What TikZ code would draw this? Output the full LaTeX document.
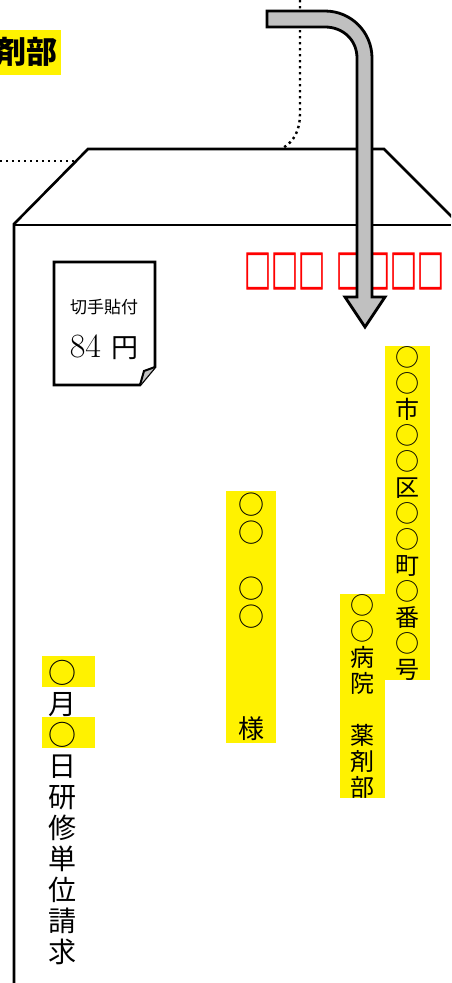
\documentclass[tikz,border=0pt]{standalone}
\usepackage{fontspec}
\newfontfamily\jp{Noto Sans CJK JP}
\newfontfamily\tofu[FakeBold=2.5]{Noto Sans CJK JP}
\usetikzlibrary{positioning}
\definecolor{pipegray}{RGB}{192,192,192}

\begin{document}
\begin{tikzpicture}[x=1pt,y=-1pt,
    env/.style={line width=2.6pt},
    dots/.style={line width=2.4pt,dash pattern=on 2.4pt off 3.6pt},
    pipe/.style={fill=pipegray,draw=black,line width=2.8pt,line join=miter},
    hl/.style={fill=yellow,inner sep=0pt},
    tate/.style={align=center,inner sep=0pt,anchor=north}]
  \useasboundingbox (0,0) rectangle (451,983);
  \clip (0,0) rectangle (451,983);

  % label cut at the page edge
  \node[hl,anchor=east,inner xsep=3pt,minimum height=45pt] (bukai) at (61,52)
    {\jp\bfseries\fontsize{31}{31}\selectfont 薬剤部};
  \draw[dots] (0,161) -- (76,161);
  \draw[dots] (300,0) -- (300,113) .. controls (300,131) and (294,141) .. (283,148);

  % envelope
  \draw[env] (14,983) -- (14,224) -- (88,149) -- (384,149) -- (460,225);
  \draw[env] (14,225) -- (451,225);

  % stamp
  \draw[line width=2.6pt,fill=white] (54,262) -- (155,262) -- (155,367) -- (140,385) -- (54,385) -- cycle;
  \draw[line width=2pt,fill=pipegray] (155,367) -- (144,371) -- (140,385);
  \node (kitte) at (104,307) {\jp\fontsize{17}{17}\selectfont 切手貼付};
  \node (ryokin) at (104,347) {\fontsize{34}{34}\selectfont 84 {\jp\fontsize{27}{27}\selectfont 円}};

  % red notice, behind the arrow
  \node[text=red,xscale=0.6,inner sep=0pt] (zaichu) at (344,271)
    {\tofu\fontsize{45}{45}\selectfont □□□\hspace{18pt}□□□□};

  % the arrow
  \draw[pipe] (267,11) -- (325,11) .. controls (351,11) and (372,32) .. (372,58)
    -- (372,297) -- (385,297) -- (365,327) -- (345,297) -- (357,297)
    -- (357,58) .. controls (357,40) and (343,27) .. (325,27) -- (267,27) -- cycle;

  % address
  \node[tate,hl,minimum width=45pt,font=\jp\fontsize{24}{26}\selectfont] (jusho) at (407.5,346)
    {○\\○\\市\\○\\○\\区\\○\\○\\町\\○\\番\\○\\号};
  \node[tate,hl,minimum width=45pt,font=\jp\fontsize{24}{26}\selectfont] (byoin) at (362.5,594)
    {○\\○\\病\\院\\　\\薬\\剤\\部};
  \node[tate,hl,minimum width=50pt,inner ysep=2pt,font=\jp\fontsize{26}{28}\selectfont] (atena) at (251,491)
    {○\\○\\　\\○\\○\\　\\　\\　\\様};

  % date line
  \node[hl,minimum width=53pt,minimum height=31pt] (tsuki) at (68.5,671.5) {};
  \node[hl,minimum width=53pt,minimum height=31pt] (hi) at (68.5,732.5) {};
  \node[tate,font=\jp\fontsize{28}{31}\selectfont] (seikyu) at (62,660)
    {○\\月\\○\\日\\研\\修\\単\\位\\請\\求};
\end{tikzpicture}
\end{document}
